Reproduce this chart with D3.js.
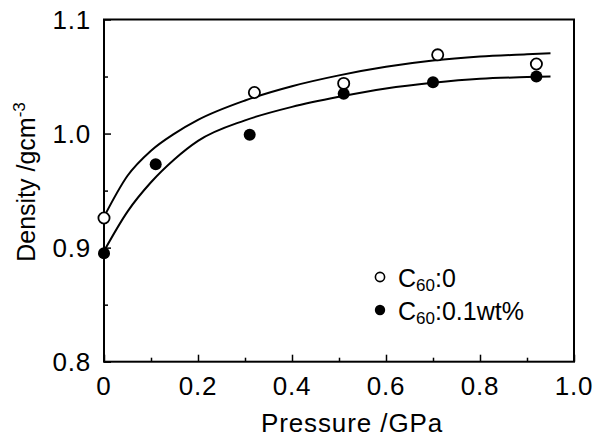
<!DOCTYPE html>
<html>
<head>
<meta charset="utf-8">
<script src="https://cdn.jsdelivr.net/npm/d3@7"></script>
<style>
  html, body { margin: 0; padding: 0; background: #fff; }
  svg { display: block; font-family: "Liberation Sans", Arial, Helvetica, sans-serif; }
</style>
</head>
<body>
<svg id="chart" width="598" height="439"></svg>
<script>
// ---- data ----
const pressurePure = [0, 0.32, 0.51, 0.71, 0.92];
const densityPure  = [0.926, 1.036, 1.044, 1.069, 1.061];
const pressureDoped = [0, 0.11, 0.31, 0.51, 0.70, 0.92];
const densityDoped  = [0.895, 0.973, 0.999, 1.035, 1.045, 1.050];
const pressureFit = [0, 0.05, 0.1, 0.15, 0.2, 0.3, 0.4, 0.5, 0.6, 0.7, 0.8, 0.9, 0.95];
const fitPure  = [0.927, 0.963, 0.985, 1.000, 1.012, 1.029, 1.0415, 1.051, 1.0585, 1.064, 1.0675, 1.0695, 1.0705];
const fitDoped = [0.897, 0.9316, 0.9573, 0.9775, 0.9936, 1.0116, 1.0234, 1.0322, 1.0395, 1.0445, 1.048, 1.0495, 1.050];
const xTicks = [0, 0.2, 0.4, 0.6, 0.8, 1.0];
const xTickLabels = ["0", "0.2", "0.4", "0.6", "0.8", "1.0"];
const yTicks = [0.8, 0.9, 1.0, 1.1];
const yTickLabels = ["0.8", "0.9", "1.0", "1.1"];
const xMinor = [0.1, 0.3, 0.5, 0.7, 0.9];
const yMinor = [0.85, 0.95, 1.05];
const legendLabels = [{main: "C", sub: "60", rest: ":0"}, {main: "C", sub: "60", rest: ":0.1wt%"}];

// ---- layout ----
const L = 104, R = 574, T = 19.5, B = 361.7;
const svg = d3.select("#chart");
const x = d3.scaleLinear().domain([0, 1.0]).range([L, R]);
const y = d3.scaleLinear().domain([0.8, 1.1]).range([B, T]);

// ticks (inward)
const xAxis = d3.axisBottom(x).tickValues(xTicks).tickSize(-7).tickFormat("");
const gx = svg.append("g").attr("transform", `translate(0,${B})`).call(xAxis);
const xAxisMinor = d3.axisBottom(x).tickValues(xMinor).tickSize(-4).tickFormat("");
const gxm = svg.append("g").attr("transform", `translate(0,${B})`).call(xAxisMinor);
const yAxis = d3.axisLeft(y).tickValues(yTicks).tickSize(-7).tickFormat("");
const gy = svg.append("g").attr("transform", `translate(${L},0)`).call(yAxis);
const yAxisMinor = d3.axisLeft(y).tickValues(yMinor).tickSize(-4).tickFormat("");
const gym = svg.append("g").attr("transform", `translate(${L},0)`).call(yAxisMinor);
[gx, gxm, gy, gym].forEach(g => {
  g.select(".domain").remove();
  g.selectAll("line").attr("stroke", "#000").attr("stroke-width", 1.5);
});

// frame
svg.append("rect").attr("x", L).attr("y", T).attr("width", R - L).attr("height", B - T)
  .attr("fill", "none").attr("stroke", "#000").attr("stroke-width", 2);

// tick labels
svg.append("g").selectAll("text").data(xTicks).join("text")
  .attr("x", d => x(d)).attr("y", 395)
  .attr("text-anchor", "middle").attr("font-size", 26).attr("letter-spacing", 0.8).attr("fill", "#000")
  .text((d, i) => xTickLabels[i]);
svg.append("g").selectAll("text").data(yTicks).join("text")
  .attr("x", 91).attr("y", d => y(d) + 9)
  .attr("text-anchor", "end").attr("font-size", 26).attr("letter-spacing", 0.8).attr("fill", "#000")
  .text((d, i) => yTickLabels[i]);

// axis titles
svg.append("text").attr("x", 352).attr("y", 432).attr("text-anchor", "middle")
  .attr("font-size", 26).attr("letter-spacing", 0.9).attr("fill", "#000").text("Pressure /GPa");
const yt = svg.append("text").attr("transform", "translate(35,182) rotate(-90)")
  .attr("text-anchor", "middle").attr("font-size", 25).attr("fill", "#000");
yt.append("tspan").text("Density /gcm");
yt.append("tspan").attr("font-size", 17).attr("dy", -10).text("-3");

// fit curves
const line = d3.line().x(d => x(d[0])).y(d => y(d[1])).curve(d3.curveMonotoneX);
svg.append("path").datum(pressureFit.map((p, i) => [p, fitPure[i]]))
  .attr("d", line).attr("fill", "none").attr("stroke", "#000").attr("stroke-width", 2);
svg.append("path").datum(pressureFit.map((p, i) => [p, fitDoped[i]]))
  .attr("d", line).attr("fill", "none").attr("stroke", "#000").attr("stroke-width", 2);

// points
svg.append("g").selectAll("circle").data(pressureDoped.map((p, i) => [p, densityDoped[i]])).join("circle")
  .attr("cx", d => x(d[0])).attr("cy", d => y(d[1])).attr("r", 6).attr("fill", "#000");
svg.append("g").selectAll("circle").data(pressurePure.map((p, i) => [p, densityPure[i]])).join("circle")
  .attr("cx", d => x(d[0])).attr("cy", d => y(d[1])).attr("r", 5.6)
  .attr("fill", "#fff").attr("stroke", "#000").attr("stroke-width", 1.8);

// legend
const lg = svg.append("g");
legendLabels.forEach((lab, i) => {
  const cy = 277 + i * 33;
  lg.append("circle").attr("cx", 380).attr("cy", cy).attr("r", i === 0 ? 4.6 : 5.2)
    .attr("fill", i === 0 ? "#fff" : "#000").attr("stroke", "#000").attr("stroke-width", i === 0 ? 1.6 : 0);
  const t = lg.append("text").attr("x", 398).attr("y", cy + 10).attr("font-size", 25).attr("fill", "#000");
  t.append("tspan").text(lab.main);
  t.append("tspan").attr("font-size", 17).attr("dy", 4).text(lab.sub);
  t.append("tspan").attr("dy", -4).text(lab.rest);
});
</script>
</body>
</html>
